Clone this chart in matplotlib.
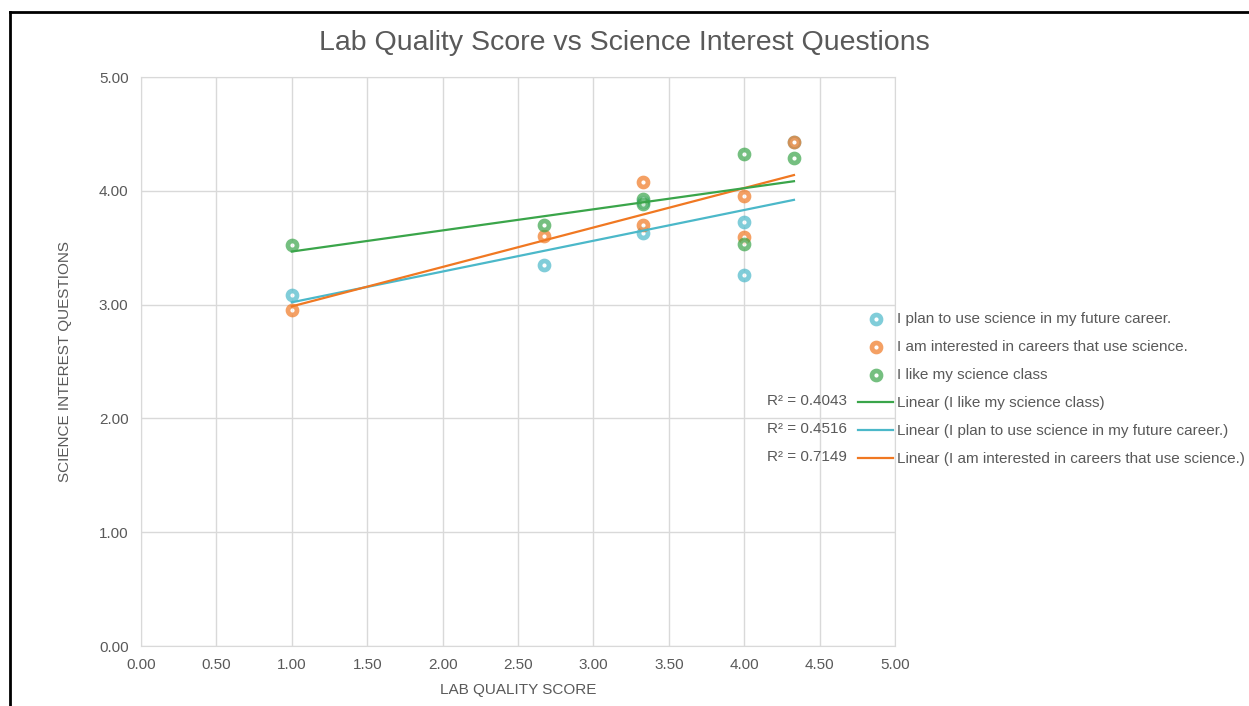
import numpy as np
import matplotlib.pyplot as plt
from matplotlib.lines import Line2D

plt.rcParams['font.family'] = ['Liberation Sans', 'DejaVu Sans']

# lab quality score (x) shared by all three questions
lab_score = [1.00, 2.67, 3.33, 3.33, 4.00, 4.00, 4.33]

plan_career = [3.08, 3.35, 3.625, 3.90, 3.73, 3.26, 4.43]
interested_careers = [2.956, 3.60, 4.08, 3.70, 3.956, 3.595, 4.43]
like_class = [3.52, 3.70, 3.93, 3.88, 4.32, 3.53, 4.29]

names = ["I plan to use science in my future career.",
         "I am interested in careers that use science.",
         "I like my science class"]
r2_text = ["R² = 0.4043", "R² = 0.4516", "R² = 0.7149"]

colors = ["#4bb8c9", "#f07822", "#3aa54a"]
gray = "#595959"

fig = plt.figure(figsize=(12.49, 7.06), dpi=100)
ax = fig.add_axes([141/1249, 1-646/706, 754/1249, 569/706])

series = [plan_career, interested_careers, like_class]
x = np.array(lab_score)

pts = []
for ys, c, n in zip(series, colors, names):
    p = ax.scatter(x, ys, s=42, facecolors="white", edgecolors=c,
                   linewidths=3.4, alpha=0.7, label=n, zorder=3)
    pts.append(p)

# linear trendlines
fits = {}
for i, (ys, c) in enumerate(zip(series, colors)):
    k, b = np.polyfit(x, ys, 1)
    xx = np.array([x.min(), x.max()])
    ln, = ax.plot(xx, k*xx + b, color=c, lw=1.6, zorder=4)
    fits[i] = ln

ax.set_xlim(0, 5)
ax.set_ylim(0, 5)
ax.set_xticks(np.arange(0, 5.01, 0.5))
ax.set_yticks(np.arange(0, 5.01, 1))
ax.xaxis.set_major_formatter(plt.FormatStrFormatter('%.2f'))
ax.yaxis.set_major_formatter(plt.FormatStrFormatter('%.2f'))
ax.tick_params(length=0, labelsize=11, labelcolor=gray)
ax.tick_params(axis='x', pad=8.5)
ax.tick_params(axis='y', pad=9)
ax.grid(True, color="#d9d9d9", lw=1)
ax.set_axisbelow(True)
for s in ax.spines.values():
    s.set_color("#d9d9d9")

ax.set_xlabel("LAB QUALITY SCORE", fontsize=11, color=gray)
ax.set_ylabel("SCIENCE INTEREST QUESTIONS", fontsize=11, color=gray)
ax.xaxis.set_label_coords(0.5, -0.065)
ax.yaxis.set_label_coords(-0.091, 0.5)

fig.suptitle("Lab Quality Score vs Science Interest Questions",
             fontsize=20.5, color=gray, x=0.5, y=1-43/706, va='center')

handles = pts + [fits[2], fits[0], fits[1]]
labels = names + ["Linear (I like my science class)",
                  "Linear (I plan to use science in my future career.)",
                  "Linear (I am interested in careers that use science.)"]
leg = fig.legend(handles, labels, loc='upper left',
                 bbox_to_anchor=(858/1249, 1-312/706), frameon=False,
                 fontsize=11, labelcolor=gray, handlelength=2.3,
                 handletextpad=0.26, labelspacing=0.92, borderpad=0,
                 borderaxespad=0)

for t, yp in zip(r2_text, [401, 429, 457]):
    fig.text(847/1249, 1-yp/706, t, ha='right', va='center',
             fontsize=11, color=gray)

# black frame at top and left
fig.add_artist(Line2D([10/1249, 1], [1-12/706, 1-12/706],
                      color="black", lw=2, transform=fig.transFigure))
fig.add_artist(Line2D([10/1249, 10/1249], [0, 1-12/706],
                      color="black", lw=2, transform=fig.transFigure))

fig.savefig("out.png", dpi=100)
